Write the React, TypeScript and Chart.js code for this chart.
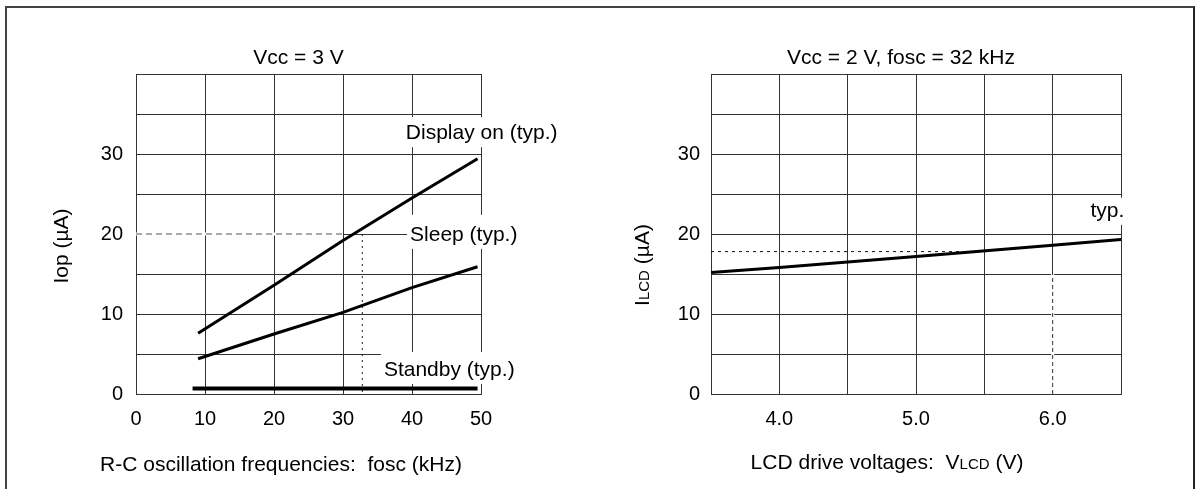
import React, { useEffect, useRef } from 'react';
import { Chart, registerables } from 'chart.js';

Chart.register(...registerables);

const FONT = '"Liberation Sans", Arial, Helvetica, sans-serif';

// ---------- Left chart: Iop vs fosc (Vcc = 3 V) ----------
const displayX = [9, 20, 30, 40, 49.5];
const displayY = [7.6, 13.6, 19.2, 24.5, 29.4];
const sleepX = [9, 20, 30, 40, 49.5];
const sleepY = [4.4, 7.5, 10.2, 13.3, 15.9];
const standbyX = [8.2, 49.5];
const standbyY = [0.7, 0.7];
const refLeftHX = [0, 30];
const refLeftHY = [20, 20];
const refLeftVX = [32.8, 32.8];
const refLeftVY = [20, 0];
const leftLabelTexts = ['Display on (typ.)', 'Sleep (typ.)', 'Standby (typ.)'];
const leftLabelX = [50.1, 47.5, 45.4];
const leftLabelY = [32.6, 19.9, 3.0];

// ---------- Right chart: ILCD vs VLCD (Vcc = 2 V, fosc = 32 kHz) ----------
const vlcdX = [3.5, 4.0, 5.0, 6.0, 6.5];
const ilcdY = [15.2, 15.8, 17.2, 18.6, 19.3];
const refRightHX = [3.5, 5.43];
const refRightHY = [17.8, 17.8];
const refRightVX = [6.0, 6.0];
const refRightVY = [0, 15];
const rightLabelTexts = ['typ.'];
const rightLabelX = [6.4];
const rightLabelY = [22.9];

// label box styling (padding above the text centre, in px)
const LEFT_BOX_TOP = [16, 20, 18];
const RIGHT_BOX_TOP = [13];

const pts = (xs: number[], ys: number[]) => xs.map((x, i) => ({ x, y: ys[i] }));

function lineDs(data: any[], width: number, color = '#000', dash: number[] = []) {
  return {
    data,
    borderColor: color,
    borderWidth: width,
    borderDash: dash,
    pointRadius: 0,
    fill: false,
    tension: 0,
    borderCapStyle: 'butt' as const,
  };
}

function drawBoxedLabels(chart: any, texts: string[], xs: number[], ys: number[], tops: number[]) {
  const ctx = chart.ctx;
  const sx = chart.scales.x;
  const sy = chart.scales.y;
  ctx.save();
  ctx.font = `21px ${FONT}`;
  ctx.textAlign = 'center';
  ctx.textBaseline = 'middle';
  texts.forEach((t, i) => {
    const cx = sx.getPixelForValue(xs[i]);
    const cy = sy.getPixelForValue(ys[i]);
    const w = ctx.measureText(t).width;
    const top = tops[i];
    ctx.fillStyle = '#fff';
    ctx.fillRect(cx - w / 2 - 3, cy - top, w + 6, top + 14);
    ctx.fillStyle = '#000';
    ctx.fillText(t, cx, cy);
  });
  ctx.restore();
}

type Piece = { t: string; size: number };

function drawPieces(ctx: any, pieces: Piece[], cx: number, baseline: number, rotated: boolean, cy?: number) {
  ctx.save();
  let total = 0;
  const widths = pieces.map((p) => {
    ctx.font = `${p.size}px ${FONT}`;
    const w = ctx.measureText(p.t).width;
    total += w;
    return w;
  });
  ctx.fillStyle = '#000';
  ctx.textBaseline = 'alphabetic';
  ctx.textAlign = 'left';
  if (rotated) {
    ctx.translate(baseline, cy);
    ctx.rotate(-Math.PI / 2);
    let x = -total / 2;
    pieces.forEach((p, i) => {
      ctx.font = `${p.size}px ${FONT}`;
      ctx.fillText(p.t, x, 0);
      x += widths[i];
    });
  } else {
    let x = cx - total / 2;
    pieces.forEach((p, i) => {
      ctx.font = `${p.size}px ${FONT}`;
      ctx.fillText(p.t, x, baseline);
      x += widths[i];
    });
  }
  ctx.restore();
}

function axisCommon() {
  return {
    grid: { color: '#333', lineWidth: 1, drawTicks: false },
    border: { color: '#333', width: 1 },
  };
}

function makeOptions(opts: {
  xmin: number; xmax: number; xstep: number; xcb: (v: number) => string;
  yAxisWidth: number; yPad: number; padRight: number;
}) {
  return {
    responsive: false,
    animation: false as const,
    layout: { padding: { top: 74, right: opts.padRight, bottom: 0, left: 0 } },
    plugins: { legend: { display: false }, tooltip: { enabled: false }, title: { display: false } },
    scales: {
      x: {
        type: 'linear' as const,
        min: opts.xmin,
        max: opts.xmax,
        ...axisCommon(),
        ticks: {
          stepSize: opts.xstep,
          padding: 13,
          color: '#000',
          font: { family: FONT, size: 20 },
          maxRotation: 0,
          autoSkip: false,
          callback: (v: any) => opts.xcb(Number(v)),
        },
        afterFit: (s: any) => { s.height = 95; },
      },
      y: {
        type: 'linear' as const,
        min: 0,
        max: 40,
        ...axisCommon(),
        ticks: {
          stepSize: 5,
          padding: opts.yPad,
          color: '#000',
          font: { family: FONT, size: 20 },
          autoSkip: false,
          callback: (v: any) => {
            const n = Number(v);
            return n % 10 === 0 && n < 40 ? String(n) : '';
          },
        },
        afterFit: (s: any) => { s.width = opts.yAxisWidth; },
      },
    },
  };
}

export default function App() {
  const leftRef = useRef<HTMLCanvasElement>(null);
  const rightRef = useRef<HTMLCanvasElement>(null);

  useEffect(() => {
    const left = new Chart(leftRef.current as HTMLCanvasElement, {
      type: 'line',
      data: {
        datasets: [
          lineDs(pts(displayX, displayY), 3),
          lineDs(pts(sleepX, sleepY), 3),
          lineDs(pts(standbyX, standbyY), 4),
          lineDs(pts(refLeftVX, refLeftVY), 1, '#222', [2, 4]),
          lineDs(pts(refLeftHX, refLeftHY), 1, '#555', [6, 4]),
          lineDs(pts(refLeftHX, refLeftHY), 3, '#fff'),
        ] as any,
      },
      options: makeOptions({
        xmin: 0, xmax: 50, xstep: 10, xcb: (v) => String(v),
        yAxisWidth: 136, yPad: 13, padRight: 119,
      }) as any,
      plugins: [
        {
          id: 'leftText',
          afterDatasetsDraw: (chart: any) =>
            drawBoxedLabels(chart, leftLabelTexts, leftLabelX, leftLabelY, LEFT_BOX_TOP),
          afterDraw: (chart: any) => {
            const ctx = chart.ctx;
            drawPieces(ctx, [{ t: 'Vcc = 3 V', size: 21 }], 298.5, 64, false);
            drawPieces(ctx, [{ t: 'R-C oscillation frequencies:  fosc (kHz)', size: 21 }], 281, 471, false);
            drawPieces(ctx, [{ t: 'Iop (µA)', size: 21 }], 0, 67.5, true, 246);
          },
        },
      ],
    });

    const right = new Chart(rightRef.current as HTMLCanvasElement, {
      type: 'line',
      data: {
        datasets: [
          lineDs(pts(vlcdX, ilcdY), 3),
          lineDs(pts(refRightHX, refRightHY), 1, '#111', [3, 4]),
          lineDs(pts(refRightVX, refRightVY), 1, '#333', [4, 3]),
          lineDs(pts(refRightVX, refRightVY), 3, '#fff'),
        ] as any,
      },
      options: makeOptions({
        xmin: 3.5, xmax: 6.5, xstep: 0.5,
        xcb: (v) => (Math.abs(v - Math.round(v)) < 1e-6 ? v.toFixed(1) : ''),
        yAxisWidth: 111, yPad: 11, padRight: 79,
      }) as any,
      plugins: [
        {
          id: 'rightText',
          afterDatasetsDraw: (chart: any) =>
            drawBoxedLabels(chart, rightLabelTexts, rightLabelX, rightLabelY, RIGHT_BOX_TOP),
          afterDraw: (chart: any) => {
            const ctx = chart.ctx;
            drawPieces(ctx, [{ t: 'Vcc = 2 V, fosc = 32 kHz', size: 21 }], 301, 64, false);
            drawPieces(
              ctx,
              [
                { t: 'LCD drive voltages:  V', size: 21 },
                { t: 'LCD', size: 15 },
                { t: ' (V)', size: 21 },
              ],
              287, 469, false,
            );
            drawPieces(
              ctx,
              [
                { t: 'I', size: 21 },
                { t: 'LCD', size: 15 },
                { t: ' (µA)', size: 21 },
              ],
              0, 48.5, true, 265,
            );
          },
        },
      ],
    });

    return () => {
      left.destroy();
      right.destroy();
    };
  }, []);

  return (
    <div style={{ position: 'absolute', left: 0, top: 0, width: 1200, height: 489, overflow: 'hidden', background: '#fff' }}>
      <div
        style={{
          position: 'absolute',
          left: 5,
          top: 6,
          width: 1186,
          height: 490,
          borderLeft: '2px solid #444',
          borderTop: '2px solid #444',
          borderRight: '2px solid #222',
          boxSizing: 'content-box',
        }}
      />
      <canvas ref={leftRef} width={600} height={489} style={{ position: 'absolute', left: 0, top: 0 }} />
      <canvas ref={rightRef} width={600} height={489} style={{ position: 'absolute', left: 600, top: 0 }} />
    </div>
  );
}
